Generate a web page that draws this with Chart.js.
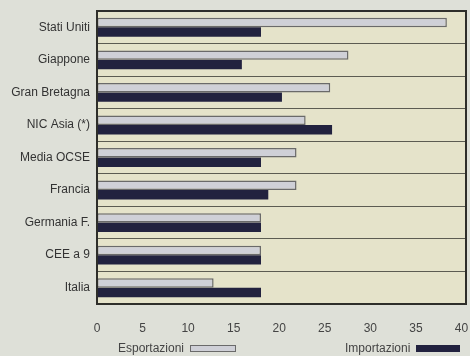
<!DOCTYPE html>
<html>
<head>
<meta charset="utf-8">
<script src="https://cdn.jsdelivr.net/npm/chart.js@4/dist/chart.umd.min.js"></script>
<style>
  body { margin: 0; background: #dee0d8; }
  #wrap { position: relative; width: 470px; height: 356px; }
  .leg { position: absolute; top: 341px; font: 12px "Liberation Sans Narrow", "Liberation Sans", Arial, sans-serif; color: #444; display: flex; align-items: center; }
  .leg span.box { display: inline-block; width: 44px; height: 7px; margin-left: 6px; }
</style>
</head>
<body>
<div id="wrap">
  <canvas id="myChart" width="470" height="356"></canvas>
  <div class="leg" style="left:118px"><span>Esportazioni</span><span class="box" style="background:#cfd0d7;border:1.5px solid #6a6a6a;height:5px"></span></div>
  <div class="leg" style="left:345px"><span>Importazioni</span><span class="box" style="background:#22223f"></span></div>
</div>
<script>
// data
const paesi = ['Stati Uniti', 'Giappone', 'Gran Bretagna', 'NIC Asia (*)', 'Media OCSE', 'Francia', 'Germania F.', 'CEE a 9', 'Italia'];
const esportazioni = [38.4, 27.6, 25.6, 22.9, 21.9, 21.9, 18, 18, 12.8];
const importazioni = [18, 15.9, 20.3, 25.8, 18, 18.8, 18, 18, 18];
const xTicks = [0, 5, 10, 15, 20, 25, 30, 35, 40];

const fontFam = '"Liberation Sans Narrow", "Liberation Sans", Arial, sans-serif';

// plot background + frame
const frame = {
  id: 'frame',
  beforeDraw(chart) {
    const a = chart.chartArea, c = chart.ctx;
    c.save();
    c.fillStyle = '#e5e3ca';
    c.fillRect(a.left, a.top, a.right - a.left, a.bottom - a.top);
    c.restore();
  },
  afterDraw(chart) {
    const a = chart.chartArea, c = chart.ctx;
    c.save();
    c.strokeStyle = '#2e2e2a';
    c.lineWidth = 2;
    c.strokeRect(a.left, a.top, a.right - a.left, a.bottom - a.top);
    c.restore();
  }
};

const ctx = document.getElementById('myChart').getContext('2d');
const myChart = new Chart(ctx, {
  type: 'bar',
  data: {
    labels: paesi,
    datasets: [{
      label: 'Esportazioni',
      data: esportazioni,
      backgroundColor: '#cfd0d7',
      borderColor: '#6a6a6a',
      borderWidth: 1.5,
      borderSkipped: false
    }, {
      label: 'Importazioni',
      data: importazioni,
      backgroundColor: '#22223f',
      borderWidth: 0
    }]
  },
  options: {
    indexAxis: 'y',
    responsive: false,
    animation: false,
    layout: { padding: { top: 11, right: 4, left: 0, bottom: 0 } },
    datasets: { bar: { categoryPercentage: 0.58, barPercentage: 1 } },
    plugins: {
      legend: { display: false },
      tooltip: { enabled: false }
    },
    scales: {
      x: {
        min: 0, max: 40.5,
        ticks: { color: '#444', padding: 9, font: { family: fontFam, size: 12 } },
        afterBuildTicks(s) { s.ticks = xTicks.map(v => ({ value: v })); },
        grid: { display: false },
        border: { display: false },
        afterFit(s) { s.height = 52; s.paddingRight = 0; s.paddingLeft = 0; }
      },
      y: {
        ticks: { color: '#333', padding: 7, font: { family: fontFam, size: 12 } },
        grid: { color: '#5c5c52', lineWidth: 1, drawTicks: false },
        border: { display: false },
        afterFit(s) { s.width = 97; s.paddingTop = 0; s.paddingBottom = 0; }
      }
    }
  },
  plugins: [frame]
});
</script>
</body>
</html>
